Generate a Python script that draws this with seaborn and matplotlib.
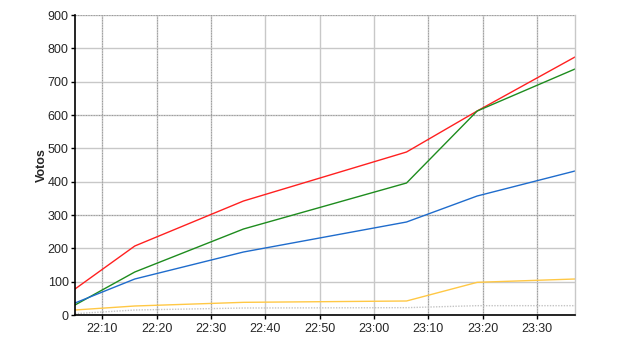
import matplotlib
matplotlib.use("Agg")
import matplotlib.pyplot as plt
import matplotlib.dates as mdates
import seaborn as sns
import pandas as pd

times = ["22:05", "22:16", "22:36", "23:06", "23:19", "23:37"]
red = [78, 207, 342, 489, 612, 774]
green = [30, 129, 258, 396, 612, 738]
blue = [36, 108, 189, 279, 357, 432]
yellow = [15, 27, 38, 42, 98, 108]
grey = [4, 15, 21, 22, 28, 28]

series_names = ["red", "green", "blue", "yellow", "grey"]
series_values = [red, green, blue, yellow, grey]
colors = {"red": "#ff2020", "green": "#1e8c1e", "blue": "#1f6ccc",
          "yellow": "#ffc845", "grey": "#c4c4c4"}

x_ticks = ["22:10", "22:20", "22:30", "22:40", "22:50", "23:00", "23:10", "23:20", "23:30"]
dotted_x = ["22:10", "22:20", "22:30", "23:10", "23:20", "23:30"]
y_ticks = [0, 100, 200, 300, 400, 500, 600, 700, 800, 900]
dotted_y = [300, 600, 900]

def to_dt(t):
    return pd.Timestamp("2020-01-01 " + t)

rows = []
for name, vals in zip(series_names, series_values):
    for t, v in zip(times, vals):
        rows.append({"time": to_dt(t), "votos": v, "serie": name})
df = pd.DataFrame(rows)

sns.set_theme(style="white")
plt.rcParams["font.family"] = ["Liberation Sans", "DejaVu Sans"]

fig = plt.figure(figsize=(6.4, 3.5), dpi=100)
ax = fig.add_axes([75 / 640, 35 / 350, 500 / 640, 300 / 350])

sns.lineplot(data=df, x="time", y="votos", hue="serie", palette=colors,
             hue_order=series_names, legend=False, ax=ax, linewidth=1.0)
ax.lines[-1].set_linestyle((0, (1, 1)))

ax.set_xlim(to_dt("22:05"), to_dt("23:37"))
ax.set_ylim(0, 900)
ax.set_yticks(y_ticks)
ax.set_xticks([to_dt(t) for t in x_ticks])
ax.xaxis.set_major_formatter(mdates.DateFormatter("%H:%M"))

ax.grid(True, color="#c8c8c8", linewidth=1.0, linestyle="-")
ax.set_axisbelow(True)
for t in dotted_x:
    ax.axvline(to_dt(t), color="#9a9a9a", linewidth=0.75, linestyle=(0, (1, 1.5)), zorder=0.6)
for v in dotted_y:
    ax.axhline(v, color="#9a9a9a", linewidth=0.75, linestyle=(0, (1, 1.5)), zorder=0.6)

for s in ["left", "bottom"]:
    ax.spines[s].set_color("black")
    ax.spines[s].set_linewidth(1.2)
ax.spines["top"].set_visible(False)
ax.spines["right"].set_color("#c8c8c8")
ax.spines["right"].set_linewidth(1.0)

ax.tick_params(axis="both", which="major", length=3, width=1, color="black",
               labelsize=9, direction="out", bottom=True, left=True, pad=1.5)
ax.tick_params(axis="x", pad=3)
ax.set_xlabel("")
ax.set_ylabel("Votos", fontsize=9, fontweight="bold", labelpad=0)

fig.savefig("out.png", dpi=100)
